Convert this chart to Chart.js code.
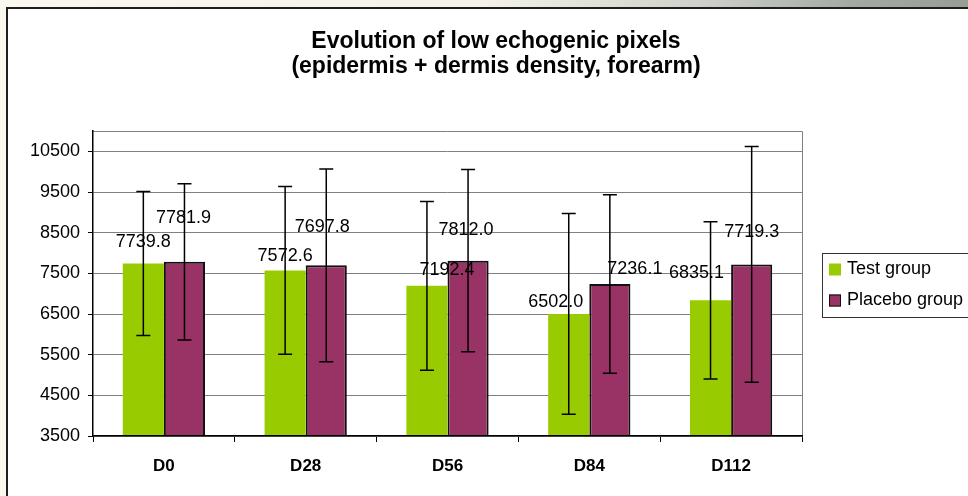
<!DOCTYPE html>
<html lang="en">
<head>
  <meta charset="UTF-8" />
  <title>Evolution of low echogenic pixels</title>
  <style>
    html, body {
      margin: 0;
      overflow: hidden;
    }

    body {
      width: 968px;
      height: 496px;
      background: linear-gradient(to right, #fbf8ee 0%, #f4f2e9 50%, #cfd2ca 72%, #a3aaa1 88%, #979e95 100%);
      font-family: 'Liberation Sans', Arial, sans-serif;
    }

    /* white chart sheet, cut off on the right and bottom like the original */
    .frame {
      position: absolute;
      left: 6px;
      top: 7px;
      width: 1000px;
      height: 520px;
      background: #fff;
      border-left: 2px solid #1e1e1e;
      border-top: 2px solid #1e1e1e;
    }

    #chart {
      position: absolute;
      left: 0;
      top: 0;
    }
  </style>
</head>
<body>
  <div class="frame"></div>
  <canvas id="chart" width="992" height="496"></canvas>

  <script src="https://cdn.jsdelivr.net/npm/chart.js"></script>
  <script>
    // Values
    const categories = ['D0', 'D28', 'D56', 'D84', 'D112'];
    const testMeans = [7739.8, 7572.6, 7192.4, 6502.0, 6835.1];
    const placeboMeans = [7781.9, 7697.8, 7812.0, 7236.1, 7719.3];
    const testErr = [1770, 2065, 2075, 2470, 1935];
    const placeboErr = [1920, 2370, 2240, 2195, 2900];
    const yTicks = [3500, 4500, 5500, 6500, 7500, 8500, 9500, 10500];

    const FONT = "'Liberation Sans', Arial, sans-serif";

    // Label offsets (px) from the top-centre of each bar, as placed in the original
    const testNudge = [[0, -22], [0, -14], [20, -16], [-13, -12], [-14, -27]];
    const placeboNudge = [[-1, -44], [-4, -38], [-2, -31], [25, -15], [0, -32]];

    // Grey frame on top and right of the plot area
    const plotFrame = {
      id: 'plotFrame',
      beforeDatasetsDraw(chart) {
        const { ctx, chartArea: a } = chart;
        ctx.save();
        ctx.strokeStyle = '#808080';
        ctx.lineWidth = 1;
        ctx.beginPath();
        ctx.moveTo(a.left, a.top + 0.5);
        ctx.lineTo(a.right + 0.5, a.top + 0.5);
        ctx.lineTo(a.right + 0.5, a.bottom);
        ctx.stroke();
        ctx.restore();
      }
    };

    // Standard deviation whiskers
    const errorBars = {
      id: 'errorBars',
      afterDatasetsDraw(chart) {
        const { ctx } = chart;
        const y = chart.scales.y;
        ctx.save();
        ctx.strokeStyle = '#000';
        ctx.lineWidth = 1.5;
        chart.data.datasets.forEach((ds, i) => {
          chart.getDatasetMeta(i).data.forEach((bar, j) => {
            const hi = y.getPixelForValue(ds.data[j] + ds.errors[j]);
            const lo = y.getPixelForValue(ds.data[j] - ds.errors[j]);
            ctx.beginPath();
            ctx.moveTo(bar.x, hi);
            ctx.lineTo(bar.x, lo);
            ctx.moveTo(bar.x - 7, hi);
            ctx.lineTo(bar.x + 7, hi);
            ctx.moveTo(bar.x - 7, lo);
            ctx.lineTo(bar.x + 7, lo);
            ctx.stroke();
          });
        });
        ctx.restore();
      }
    };

    // Value labels above the bars
    const valueLabels = {
      id: 'valueLabels',
      afterDatasetsDraw(chart, args, opts) {
        const { ctx } = chart;
        ctx.save();
        ctx.fillStyle = '#000';
        ctx.font = '18px ' + FONT;
        ctx.textAlign = 'center';
        ctx.textBaseline = 'middle';
        chart.data.datasets.forEach((ds, i) => {
          chart.getDatasetMeta(i).data.forEach((bar, j) => {
            const [dx, dy] = opts.nudges[i][j];
            ctx.fillText(ds.data[j].toFixed(1), bar.x + dx, bar.y + dy);
          });
        });
        ctx.restore();
      }
    };

    // Boxed legend to the right of the plot
    const boxLegend = {
      id: 'boxLegend',
      afterDraw(chart) {
        const { ctx, chartArea: a } = chart;
        const left = a.right + 20;
        const mid = (a.top + a.bottom) / 2 + 1.5;
        const rowGap = 31;
        const top = mid - 32;
        ctx.save();
        ctx.strokeStyle = '#333';
        ctx.lineWidth = 1;
        ctx.strokeRect(left + 0.5, top + 0.5, 200, 64);
        ctx.font = '18px ' + FONT;
        ctx.textBaseline = 'middle';
        ctx.textAlign = 'left';
        chart.data.datasets.forEach((ds, i) => {
          const cy = mid + (i - 0.5) * rowGap;
          ctx.fillStyle = ds.backgroundColor;
          ctx.fillRect(left + 7, cy - 6, 12, 12);
          if (ds.borderWidth) {
            ctx.strokeStyle = '#111';
            ctx.strokeRect(left + 7.5, cy - 5.5, 11, 11);
          }
          ctx.fillStyle = '#000';
          ctx.fillText(ds.label, left + 25, cy);
        });
        ctx.restore();
      }
    };

    new Chart(document.getElementById('chart'), {
      type: 'bar',
      data: {
        labels: categories,
        datasets: [
          {
            label: 'Test group',
            data: testMeans,
            errors: testErr,
            backgroundColor: '#99cc00',
            borderWidth: 0,
            categoryPercentage: 0.58,
            barPercentage: 1
          },
          {
            label: 'Placebo group',
            data: placeboMeans,
            errors: placeboErr,
            backgroundColor: '#993366',
            borderColor: '#111',
            borderWidth: 2,
            categoryPercentage: 0.58,
            barPercentage: 1
          }
        ]
      },
      options: {
        responsive: false,
        animation: false,
        layout: { padding: 0 },
        plugins: {
          legend: { display: false },
          tooltip: { enabled: false },
          title: {
            display: true,
            text: ['Evolution of low echogenic pixels', '(epidermis + dermis density, forearm)'],
            color: '#000',
            font: { family: FONT, size: 23, weight: 'bold', lineHeight: 25 / 23 },
            padding: { top: 29, bottom: 52 }
          },
          valueLabels: { nudges: [testNudge, placeboNudge] }
        },
        scales: {
          x: {
            grid: {
              display: true,
              drawOnChartArea: false,
              tickLength: 6,
              tickColor: '#000',
              offset: true
            },
            border: { display: true, color: '#000', width: 1.5, z: 1 },
            ticks: {
              color: '#000',
              font: { family: FONT, size: 17, weight: 'bold' },
              padding: 14,
              maxRotation: 0
            },
            afterFit: (s) => { s.height = 60; }
          },
          y: {
            min: 3500,
            max: 11000,
            afterBuildTicks: (s) => { s.ticks = yTicks.map((v) => ({ value: v })); },
            grid: { color: '#808080', lineWidth: 1, tickLength: 5, tickColor: '#000' },
            border: { display: true, color: '#000', width: 1.5, z: 1 },
            ticks: {
              color: '#000',
              font: { family: FONT, size: 18 },
              padding: 8,
              callback: (v) => String(v)
            },
            afterFit: (s) => { s.width = 93; }
          },
          // empty axis that only reserves room for the legend
          side: {
            position: 'right',
            grid: { display: false },
            border: { display: false },
            ticks: { display: false },
            afterFit: (s) => { s.width = 190; }
          }
        }
      },
      plugins: [plotFrame, errorBars, valueLabels, boxLegend]
    });
  </script>
</body>
</html>
